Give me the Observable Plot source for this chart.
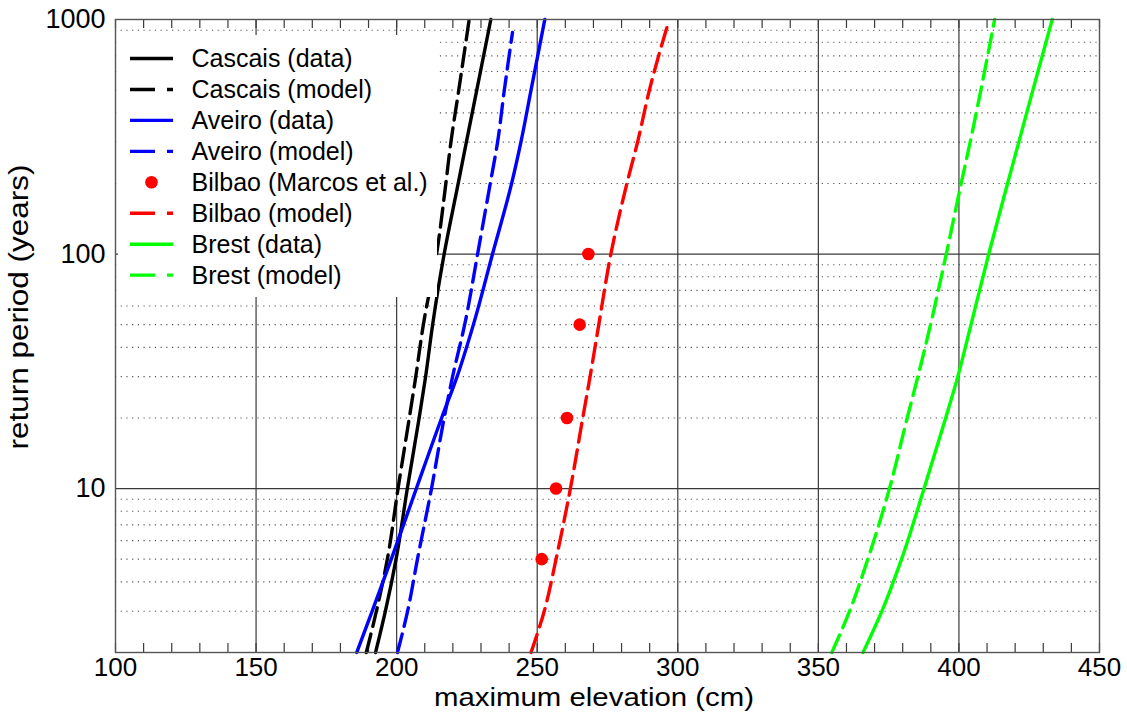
<!DOCTYPE html>
<html>
<head>
<meta charset="utf-8">
<script src="https://cdn.jsdelivr.net/npm/d3@7"></script>
<script src="https://cdn.jsdelivr.net/npm/@observablehq/plot@0.6"></script>
<style>
  html, body { margin: 0; padding: 0; background: #fff; }
  #chart { width: 1127px; height: 713px; }
</style>
</head>
<body>
<div id="chart"></div>
<script>
// Return periods (years) at which each curve is sampled
const periods = [2, 3, 5, 10, 20, 30, 50, 100, 200, 300, 500, 1000];

// Maximum elevation (cm) reached for each return period
const cascaisData  = [192.5, 196.0, 199.8, 203.8, 208.0, 210.3, 212.8, 216.9, 221.9, 224.8, 228.5, 233.5];
const cascaisModel = [189.2, 192.8, 196.7, 200.5, 204.5, 206.8, 209.5, 214.2, 217.5, 219.3, 222.1, 225.8];
const aveiroData   = [185.8, 191.3, 198.1, 207.0, 216.0, 221.5, 227.3, 234.1, 240.9, 244.2, 247.8, 252.7];
const aveiroModelPeriods = [2, 3, 5, 10, 20, 30, 50, 100, 200, 300, 500, 880];
const aveiroModel  = [200.3, 203.9, 207.4, 212.4, 216.9, 219.9, 224.2, 228.8, 233.3, 235.9, 238.3, 241.2];
const bilbaoModelPeriods = [2, 3, 5, 10, 20, 30, 50, 100, 200, 300, 500, 950];
const bilbaoModel  = [247.8, 252.5, 256.7, 261.8, 266.2, 268.8, 271.9, 276.2, 281.9, 285.7, 289.9, 296.4];
const brestData    = [365.9, 372.6, 379.6, 387.6, 395.3, 399.6, 404.3, 410.6, 417.3, 421.3, 426.3, 433.2];
const brestModel   = [354.8, 361.1, 367.6, 375.3, 381.6, 385.4, 389.9, 395.5, 400.8, 404.0, 407.8, 412.7];

// Bilbao estimates from Marcos et al.
const bilbaoObsPeriods = [5, 10, 20, 50, 100];
const bilbaoObs        = [251.6, 256.7, 260.6, 265.1, 268.2];

// Axis ticks
const xMajor = [100, 150, 200, 250, 300, 350, 400, 450];
const xMinor = d3.range(100, 451, 10);
const yMajor = [10, 100, 1000];
const yMinor = [3, 4, 5, 6, 7, 8, 9, 20, 30, 40, 50, 60, 70, 80, 90, 200, 300, 400, 500, 600, 700, 800, 900];

// Series definitions: name, colour, dashed?, values, periods
const series = [
  {name: "Cascais (data)",  color: "#000000", dashed: false, values: cascaisData,  periods},
  {name: "Cascais (model)", color: "#000000", dashed: true,  values: cascaisModel, periods},
  {name: "Aveiro (data)",   color: "#0000ff", dashed: false, values: aveiroData,   periods},
  {name: "Aveiro (model)",  color: "#0000ff", dashed: true,  values: aveiroModel,  periods: aveiroModelPeriods},
  {name: "Bilbao (model)",  color: "#ff0000", dashed: true,  values: bilbaoModel,  periods: bilbaoModelPeriods},
  {name: "Brest (data)",    color: "#00ff00", dashed: false, values: brestData,    periods},
  {name: "Brest (model)",   color: "#00ff00", dashed: true,  values: brestModel,   periods}
];

const rows = series.map(s => s.values.map((v, i) => ({v, T: s.periods[i]})));
const obs = bilbaoObs.map((v, i) => ({v, T: bilbaoObsPeriods[i]}));

const FONT = "'Liberation Sans', Arial, Helvetica, sans-serif";
const W = 1127, H = 713;
const M = {top: 19, right: 28, bottom: 61, left: 115};
const innerH = H - M.top - M.bottom;
const gridColor = "#3a3a3a";
const LW = 3.4;

const lineMarks = series.map((s, k) => Plot.line(rows[k], {
  x: "v", y: "T", stroke: s.color, strokeWidth: LW,
  strokeDasharray: s.dashed ? "19,8" : null,
  curve: "monotone-y"
}));

const chart = Plot.plot({
  width: W, height: H,
  marginTop: M.top, marginRight: M.right, marginBottom: M.bottom, marginLeft: M.left,
  style: {fontFamily: FONT, color: "#000", background: "#fff"},
  x: {domain: [100, 450]},
  y: {type: "log", domain: [2, 1000]},
  marks: [
    // minor horizontal dotted grid
    Plot.ruleY(yMinor, {stroke: "#555", strokeWidth: 1.1, strokeDasharray: "1.2,4.5"}),
    // major grid
    Plot.ruleX(xMajor.slice(1, -1), {stroke: gridColor, strokeWidth: 1.2}),
    Plot.ruleY(yMajor.slice(0, 2), {stroke: gridColor, strokeWidth: 1.2}),
    // inward minor ticks along the bottom and top
    Plot.tickX(xMinor, {stroke: gridColor, strokeWidth: 1.2, insetTop: innerH - 9}),
    Plot.tickX(xMinor, {stroke: gridColor, strokeWidth: 1.2, insetBottom: innerH - 9}),
    // tick labels
    Plot.axisX(xMajor, {tickSize: 0, tickPadding: 5, fontSize: 26, label: null, tickFormat: d => String(d)}),
    Plot.axisY(yMajor, {tickSize: 0, tickPadding: 10, fontSize: 27, label: null, tickFormat: d => String(d)}),
    // curves
    ...lineMarks,
    Plot.dot(obs, {x: "v", y: "T", r: 6.3, fill: "#ff0000", stroke: null}),
    Plot.frame({stroke: "#555", strokeWidth: 1.4})
  ]
});

document.getElementById("chart").append(chart);

const svg = d3.select(chart);

// Axis titles
svg.append("text")
  .attr("x", 594).attr("y", 706)
  .attr("text-anchor", "middle")
  .attr("font-family", FONT).attr("font-size", 25)
  .attr("textLength", 320).attr("lengthAdjust", "spacingAndGlyphs")
  .attr("fill", "#000")
  .text("maximum elevation (cm)");

svg.append("text")
  .attr("transform", "translate(28,307) rotate(-90)")
  .attr("text-anchor", "middle")
  .attr("font-family", FONT).attr("font-size", 27)
  .attr("textLength", 285).attr("lengthAdjust", "spacingAndGlyphs")
  .attr("fill", "#000")
  .text("return period (years)");

// Legend box inside the upper-left corner of the axes
const leg = svg.append("g").attr("class", "legend")
  .attr("font-family", FONT).attr("font-size", 25).attr("text-anchor", "start");
leg.append("rect")
  .attr("x", M.left + 3).attr("y", 35).attr("width", 319).attr("height", 262)
  .style("fill", "#ffffff").style("stroke", "none");

const legendItems = [
  {name: "Cascais (data)",  color: "#000000", kind: "solid"},
  {name: "Cascais (model)", color: "#000000", kind: "dashed"},
  {name: "Aveiro (data)",   color: "#0000ff", kind: "solid"},
  {name: "Aveiro (model)",  color: "#0000ff", kind: "dashed"},
  {name: "Bilbao (Marcos et al.)", color: "#ff0000", kind: "dot"},
  {name: "Bilbao (model)",  color: "#ff0000", kind: "dashed"},
  {name: "Brest (data)",    color: "#00ff00", kind: "solid"},
  {name: "Brest (model)",   color: "#00ff00", kind: "dashed"}
];
legendItems.forEach((it, i) => {
  const yy = 58.5 + i * 30.95;
  const g = leg.append("g").attr("transform", `translate(0,${yy})`);
  if (it.kind === "dot") {
    g.append("circle").attr("cx", 151.5).attr("cy", 0).attr("r", 6.3).style("fill", it.color);
  } else {
    g.append("line").attr("x1", 130).attr("x2", 173).attr("y1", 0).attr("y2", 0)
      .attr("stroke", it.color).attr("stroke-width", LW)
      .attr("stroke-dasharray", it.kind === "dashed" ? "25,12" : null);
  }
  g.append("text").attr("x", 191.5).attr("y", 0).attr("dy", "0.35em")
    .attr("text-anchor", "start").style("fill", "#000").text(it.name);
});
</script>
</body>
</html>
